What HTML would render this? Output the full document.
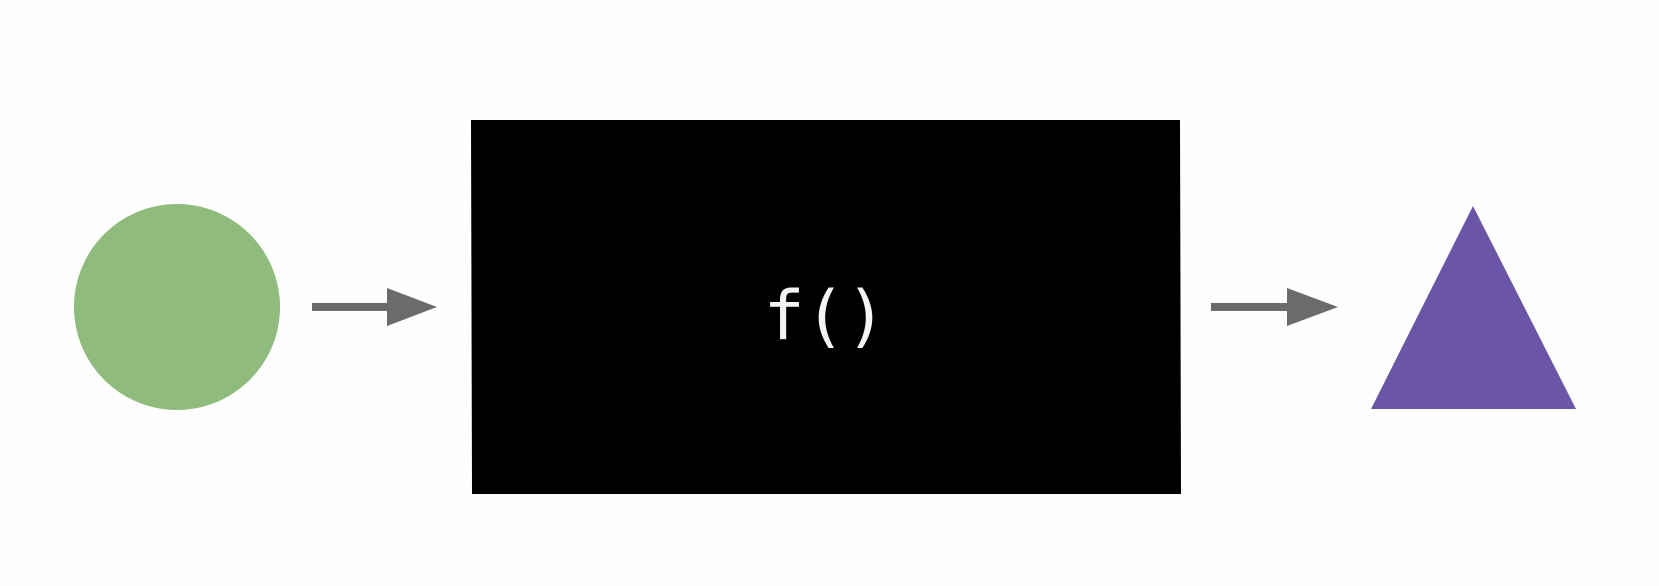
<!DOCTYPE html>
<html><head><style>
html,body{margin:0;padding:0;background:#fefefe;}
svg{display:block;}
</style></head><body>
<svg width="1659" height="586" viewBox="0 0 1659 586" xmlns="http://www.w3.org/2000/svg">
<rect width="1659" height="586" fill="#fefefe"/>
<circle cx="177" cy="307" r="103" fill="#8fbb7c"/>
<line x1="312" y1="307" x2="392" y2="307" stroke="#6b6b6b" stroke-width="8"/>
<polygon points="387,288 437,307 387,326" fill="#6b6b6b"/>
<polygon points="471,120 1180,120 1181,494 472,494" fill="#000"/>
<text x="825" y="339" text-anchor="middle" font-family="DejaVu Sans Mono, Liberation Mono, monospace" font-size="68" fill="#f4f4f4">f()</text>
<line x1="1211" y1="307" x2="1292" y2="307" stroke="#6b6b6b" stroke-width="8"/>
<polygon points="1287,288 1338,307 1287,326" fill="#6b6b6b"/>
<polygon points="1473,206 1576,409 1371,409" fill="#6a55a6"/>
</svg>
</body></html>
